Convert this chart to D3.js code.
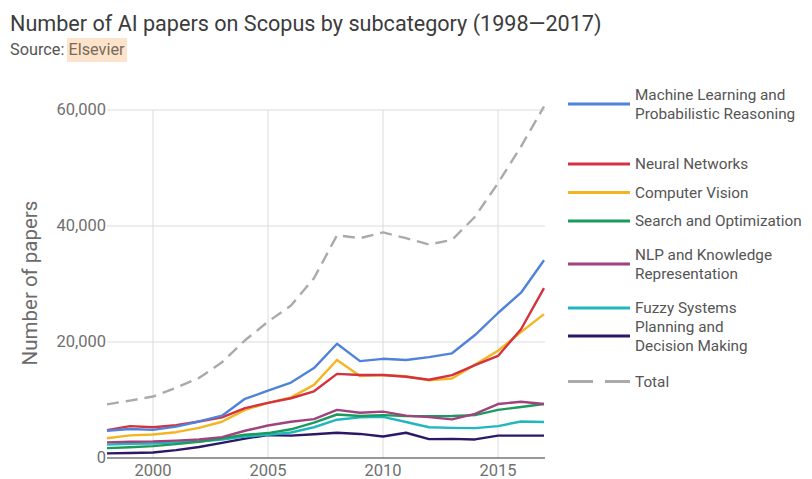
<!DOCTYPE html>
<html>
<head>
<meta charset="utf-8">
<script src="https://cdn.jsdelivr.net/npm/d3@7"></script>
<style>
  body { margin: 0; background: #fff; font-family: Roboto, "Noto Sans", sans-serif; }
</style>
</head>
<body>
<div id="chart"></div>
<script>
// data
var years = [1998, 1999, 2000, 2001, 2002, 2003, 2004, 2005, 2006, 2007, 2008, 2009, 2010, 2011, 2012, 2013, 2014, 2015, 2016, 2017];
var ml = [4700, 5000, 4850, 5400, 6300, 7300, 10200, 11600, 13000, 15500, 19700, 16700, 17100, 16900, 17400, 18050, 21200, 25000, 28500, 34100];
var nn = [4800, 5500, 5300, 5650, 6300, 7000, 8600, 9500, 10300, 11500, 14500, 14300, 14300, 14000, 13500, 14300, 16000, 17600, 22200, 29300];
var cv = [3400, 3900, 4050, 4450, 5200, 6250, 8300, 9500, 10450, 12600, 16900, 14150, 14300, 14100, 13400, 13700, 16100, 18500, 21700, 24800];
var search = [1700, 1850, 2050, 2400, 2800, 3400, 4000, 4300, 4950, 6100, 7500, 7250, 7400, 7250, 7200, 7240, 7400, 8300, 8800, 9300];
var nlp = [2700, 2800, 2850, 3000, 3200, 3600, 4700, 5600, 6250, 6700, 8300, 7800, 8000, 7300, 7050, 6650, 7600, 9300, 9700, 9300];
var fuzzy = [2300, 2450, 2500, 2700, 2850, 3200, 3700, 4000, 4400, 5300, 6600, 7000, 7100, 6200, 5300, 5200, 5150, 5500, 6300, 6200];
var planning = [800, 850, 950, 1350, 1900, 2600, 3350, 3950, 3850, 4100, 4350, 4150, 3700, 4350, 3250, 3300, 3200, 3850, 3850, 3850];
var total = [9250, 9900, 10600, 12100, 13800, 16500, 20300, 23500, 26300, 31000, 38400, 37900, 38900, 37900, 36800, 37600, 41600, 47400, 53700, 60600];

var yTicks = [0, 20000, 40000, 60000];
var xTicks = [2000, 2005, 2010, 2015];

var series = [
  {name: ["Machine Learning and", "Probabilistic Reasoning"], values: ml, color: "#4f82da", ly: 104},
  {name: ["Neural Networks"], values: nn, color: "#d3323f", ly: 164},
  {name: ["Computer Vision"], values: cv, color: "#f3b622", ly: 192.5},
  {name: ["Search and Optimization"], values: search, color: "#1b9a5c", ly: 221},
  {name: ["NLP and Knowledge", "Representation"], values: nlp, color: "#a0427e", ly: 264},
  {name: ["Fuzzy Systems"], values: fuzzy, color: "#22b7bf", ly: 308},
  {name: ["Planning and", "Decision Making"], values: planning, color: "#2e1767", ly: 336},
  {name: ["Total"], values: total, color: "#aaaaaa", ly: 381.5, dashed: true}
];

var width = 812, height = 479;
var svg = d3.select("#chart").append("svg")
    .attr("width", width)
    .attr("height", height);

var x = d3.scaleLinear().domain([1998, 2017]).range([107, 544]);
var y = d3.scaleLinear().domain([0, 60000]).range([458, 110]);

// title
svg.append("text")
    .attr("x", 10).attr("y", 31)
    .attr("font-size", 21.6)
    .attr("fill", "#3c3c3c")
    .text("Number of AI papers on Scopus by subcategory (1998\u20142017)");

var src = svg.append("g");
src.append("rect")
    .attr("x", 67).attr("y", 38)
    .attr("width", 60).attr("height", 24)
    .attr("fill", "#fde3cb");
src.append("text")
    .attr("x", 10).attr("y", 55)
    .attr("font-size", 16.3)
    .attr("fill", "#555")
    .text("Source: ")
  .append("tspan")
    .attr("fill", "#7a6a5a")
    .text("Elsevier");

// grid
svg.append("g")
    .selectAll("line")
    .data(yTicks.filter(d => d > 0))
    .join("line")
    .attr("x1", 107).attr("x2", 545)
    .attr("y1", d => y(d)).attr("y2", d => y(d))
    .attr("stroke", "#dcdcdc");

svg.append("g")
    .selectAll("line")
    .data(xTicks)
    .join("line")
    .attr("x1", d => x(d)).attr("x2", d => x(d))
    .attr("y1", y(60000)).attr("y2", y(0))
    .attr("stroke", "#dcdcdc");

// y axis labels
svg.append("g")
    .selectAll("text")
    .data(yTicks)
    .join("text")
    .attr("x", 106)
    .attr("y", d => y(d) + 5)
    .attr("text-anchor", "end")
    .attr("font-size", 16.5)
    .attr("fill", "#707070")
    .text(d => d3.format(",")(d));

svg.append("text")
    .attr("transform", "translate(37,283) rotate(-90)")
    .attr("text-anchor", "middle")
    .attr("font-size", 20.5)
    .attr("fill", "#6b6b6b")
    .text("Number of papers");

// x axis labels
svg.append("g")
    .selectAll("text")
    .data(xTicks)
    .join("text")
    .attr("x", d => x(d))
    .attr("y", 476)
    .attr("text-anchor", "middle")
    .attr("font-size", 16.5)
    .attr("fill", "#707070")
    .text(d => d);

// lines
var line = d3.line()
    .x((d, i) => x(years[i]))
    .y(d => y(d));

var drawOrder = [7, 6, 5, 3, 4, 2, 1, 0];
svg.append("g")
    .selectAll("path")
    .data(drawOrder.map(i => series[i]))
    .join("path")
    .attr("d", d => line(d.values))
    .attr("fill", "none")
    .attr("stroke", d => d.color)
    .attr("stroke-width", 2.4)
    .attr("stroke-linejoin", "round")
    .attr("stroke-dasharray", d => d.dashed ? "12,7" : null);

// baseline
svg.append("line")
    .attr("x1", 107).attr("x2", 545)
    .attr("y1", y(0)).attr("y2", y(0))
    .attr("stroke", "#333").attr("stroke-width", 1.2);

// legend
var leg = svg.append("g")
    .selectAll("g")
    .data(series)
    .join("g")
    .attr("transform", d => "translate(0," + d.ly + ")");

leg.append("line")
    .attr("x1", 568).attr("x2", 630)
    .attr("y1", 0).attr("y2", 0)
    .attr("stroke", d => d.color)
    .attr("stroke-width", 3)
    .attr("stroke-dasharray", d => d.dashed ? "25,12" : null);

leg.append("text")
    .attr("x", 635)
    .attr("font-size", 15.3)
    .attr("fill", "#555")
    .selectAll("tspan")
    .data(d => d.name.map((t, i) => ({t: t, i: i, n: d.name.length})))
    .join("tspan")
    .attr("x", 635)
    .attr("y", d => (d.i - (d.n - 1) / 2) * 19 + 5)
    .text(d => d.t);
</script>
</body>
</html>
